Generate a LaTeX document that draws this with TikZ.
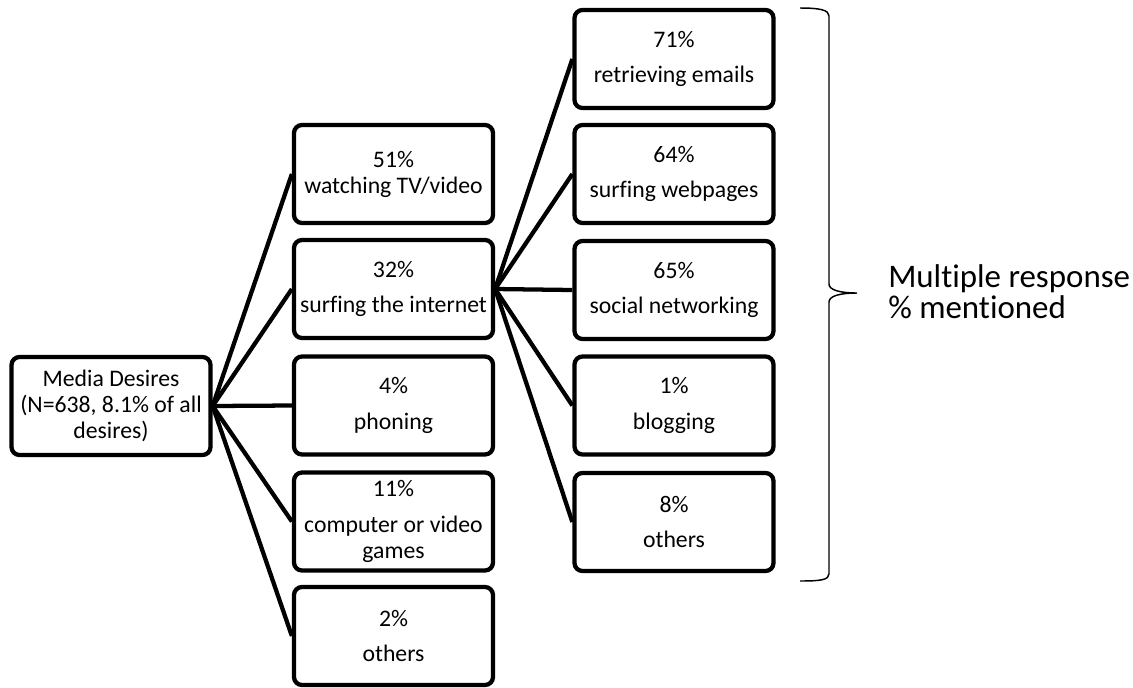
\documentclass[tikz,border=0pt]{standalone}
\usepackage{fontspec}
\setmainfont{Carlito}[Ligatures={NoCommon}]
\begin{document}
\begin{tikzpicture}[x=0.75pt,y=-0.75pt,
  box/.style={draw, line width=3.2pt, rounded corners=6pt, minimum width=149.25pt, minimum height=73.5pt,
    inner sep=0pt, align=center, font=\fontsize{17.8}{19.5}\selectfont},
  link/.style={line width=3.2pt},
  bracepath/.style={line width=1.1pt},
  bracelabel/.style={anchor=base west, inner sep=0pt, font=\fontsize{24.7}{23}\selectfont}
]
\useasboundingbox (0,0) rectangle (1133,687);

\node[box] (root) at (111,406) {Media Desires\\(N=638, 8.1\% of all\\desires)};

\node[box] (m1) at (393.5,174) {51\%\\watching TV/video};
\node[box] (m2) at (393.5,289) {32\%\\[7pt]surfing the internet};
\node[box] (m3) at (393.5,405.5) {4\%\\[7pt]phoning};
\node[box] (m4) at (393.5,521.5) {11\%\\[7pt]computer or video\\games};
\node[box] (m5) at (393.5,636) {2\%\\[7pt]others};

\node[box] (r1) at (674,59) {71\%\\[7pt]retrieving emails};
\node[box] (r2) at (674,174) {64\%\\[7pt]surfing webpages};
\node[box] (r3) at (674,290) {65\%\\[7pt]social networking};
\node[box] (r4) at (674,405.5) {1\%\\[7pt]blogging};
\node[box] (r5) at (674,522) {8\%\\[7pt]others};

\foreach \m in {m1,m2,m3,m4,m5} \draw[link] (root.east) -- (\m.west);
\foreach \r in {r1,r2,r3,r4,r5} \draw[link] (m2.east) -- (\r.west);

\draw[bracepath] (800,8) .. controls (820,8) and (829,10) .. (829,16) -- (829,284)
  .. controls (829,290) and (840,293) .. (857,293)
  .. controls (840,293) and (829,296) .. (829,302) -- (829,574)
  .. controls (829,580) and (820,581) .. (800,581);

\node[bracelabel] (lab1) at (888,287) {Multiple response};
\node[bracelabel] (lab2) at (888,318) {\% mentioned};
\end{tikzpicture}
\end{document}
